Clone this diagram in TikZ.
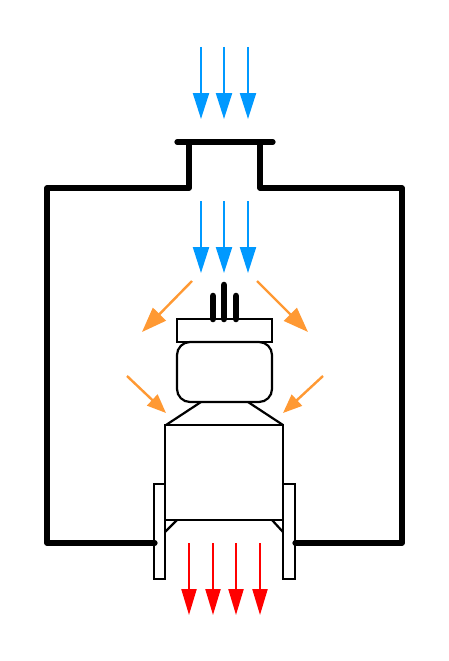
\documentclass[tikz,border=0pt]{standalone}
\usetikzlibrary{arrows.meta}
\definecolor{airblue}{RGB}{0,153,255}
\definecolor{airorange}{RGB}{255,153,51}
\definecolor{airred}{RGB}{255,0,0}
\tikzset{
  wall/.style={line width=5.2pt,line join=round,line cap=round},
  part/.style={line width=2.2pt,line join=miter},
  pin/.style={line width=6.6pt,line cap=round},
  bluearrow/.style={line width=2.2pt,airblue,-{Triangle[width=16pt,length=26pt]}},
  redarrow/.style={line width=2.2pt,airred,-{Triangle[width=15pt,length=26pt]}},
  orangebig/.style={line width=2.4pt,airorange,-{Triangle[width=18pt,length=25pt]}},
  orangesmall/.style={line width=2.4pt,airorange,-{Triangle[width=15pt,length=19pt]}},
}
\begin{document}
\begin{tikzpicture}[x=1pt,y=-1pt]
\useasboundingbox (0,0) rectangle (449,661);
\fill[white] (0,0) rectangle (449,661);
% air in
\foreach \x in {201,224,248}{
  \draw[bluearrow] (\x,47) -- (\x,119);
  \draw[bluearrow] (\x,201) -- (\x,273);
}
% enclosure
\draw[wall] (177,142) -- (273,142);
\draw[wall] (189,142) -- (189,188) -- (47,188) -- (47,543) -- (155,543);
\draw[wall] (260,142) -- (260,188) -- (402,188) -- (402,543) -- (295,543);
% orange
\draw[orangebig] (192,281) -- (142,332);
\draw[orangebig] (257,281) -- (308,332);
\draw[orangesmall] (127,376) -- (166,413);
\draw[orangesmall] (323,376) -- (283,413);
% pins
\draw[pin] (213,319) -- (213,296);
\draw[pin] (224,319) -- (224,285);
\draw[pin] (236,319) -- (236,296);
% engine
\draw[part] (177,319) rectangle (272,342);
\draw[part,rounded corners=13pt] (177,342) rectangle (272,402);
\draw[part] (165,425) rectangle (283,520);
\draw[part] (201,402) -- (166,425);
\draw[part] (248,402) -- (283,425);
\draw[part] (177,520) -- (165,532);
\draw[part] (272,520) -- (283,532);
\draw[part] (154,484) rectangle (165,579);
\draw[part] (283,484) rectangle (295,579);
% air out
\foreach \x in {189,213,236,260}{
  \draw[redarrow] (\x,543) -- (\x,615);
}
\end{tikzpicture}
\end{document}
